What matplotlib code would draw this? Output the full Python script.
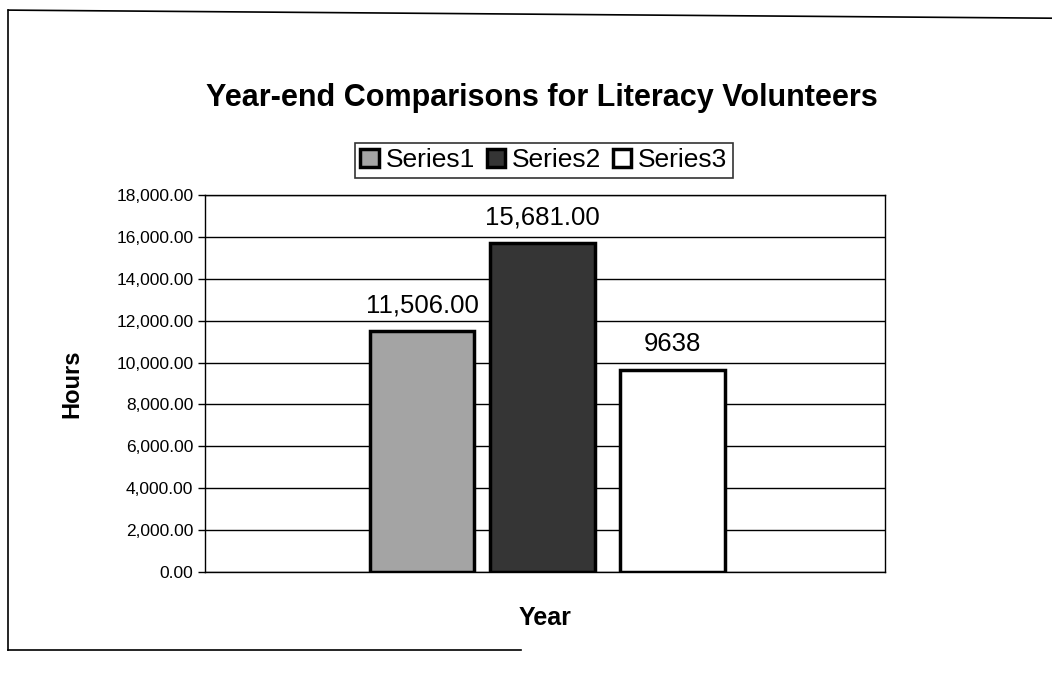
import matplotlib.pyplot as plt
from matplotlib.lines import Line2D
from matplotlib.ticker import FuncFormatter

plt.rcParams['font.family'] = ['Liberation Sans', 'DejaVu Sans']

series = ['Series1', 'Series2', 'Series3']
hours = [11506, 15681, 9638]
labels = ['11,506.00', '15,681.00', '9638']
colors = ['#a4a4a4', '#353535', '#ffffff']
offsets = [-1.12, 0, 1.2]

fig = plt.figure(figsize=(10.52, 6.74), dpi=100)
ax = fig.add_axes([0.195, 0.151, 0.646, 0.56])

for i in range(3):
    ax.bar(offsets[i], hours[i], width=0.97, color=colors[i], edgecolor='black',
           linewidth=2.5, label=series[i], zorder=3)
    ax.text(offsets[i], hours[i] + 650, labels[i], ha='center', va='bottom',
            fontsize=18.5, zorder=4)

ax.set_xlim(-3.13, 3.17)
ax.set_ylim(0, 18000)
ax.set_yticks(range(0, 18001, 2000))
ax.yaxis.set_major_formatter(FuncFormatter(lambda v, p: f'{v:,.2f}'))
ax.set_xticks([])
ax.tick_params(axis='y', direction='out', length=5, labelsize=12.5, width=1)
ax.grid(axis='y', color='black', linewidth=1, zorder=0)
for s in ax.spines.values():
    s.set_linewidth(1)
ax.set_ylabel('Hours', fontsize=17, fontweight='bold', labelpad=24)
ax.set_xlabel('Year', fontsize=18, fontweight='bold', labelpad=24)

fig.text(0.515, 0.855, 'Year-end Comparisons for Literacy Volunteers',
         ha='center', va='center', fontsize=22, fontweight='bold')

leg = fig.legend(loc='center', bbox_to_anchor=(0.517, 0.762), ncol=3,
                 fontsize=19, frameon=True, fancybox=False, edgecolor='black',
                 handlelength=0.7, handleheight=0.7, handletextpad=0.25,
                 columnspacing=0.45, borderpad=0.2)
leg.get_frame().set_linewidth(1.2)

# outer chart frame (scanned page)
fig.add_artist(Line2D([0.008, 0.008], [0.035, 0.985], color='black', lw=1.2))
fig.add_artist(Line2D([0.008, 1.0], [0.985, 0.973], color='black', lw=1.2))
fig.add_artist(Line2D([0.008, 0.495], [0.035, 0.035], color='black', lw=1.2))

fig.savefig('out.png', dpi=100)
